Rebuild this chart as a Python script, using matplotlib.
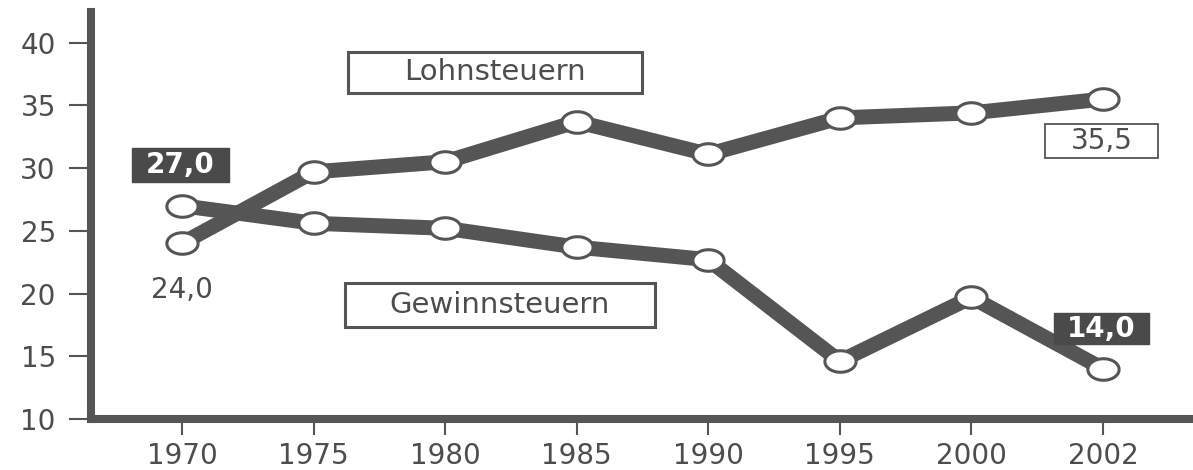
import matplotlib
matplotlib.use('Agg')
import matplotlib.pyplot as plt
import numpy as np
from matplotlib.path import Path

# Daten (Prozent am Steueraufkommen)
jahre = ['1970', '1975', '1980', '1985', '1990', '1995', '2000', '2002']
lohnsteuern = [24.0, 29.7, 30.5, 33.7, 31.1, 34.0, 34.4, 35.5]
gewinnsteuern = [27.0, 25.6, 25.2, 23.7, 22.7, 14.6, 19.7, 14.0]
y_ticks = [10, 15, 20, 25, 30, 35, 40]

grau = '#555555'
text_grau = '#4d4d4d'

plt.rcParams['font.family'] = ['DejaVu Sans']


# Kasten mit getrenntem Abstand links/rechts und oben/unten
def kasten(padx, pady):
    def style(x0, y0, width, height, mutation_size):
        px = padx * mutation_size
        py = pady * mutation_size
        x0 = x0 - px
        y0 = y0 - py
        x1 = x0 + width + 2 * px
        y1 = y0 + height + 2 * py
        return Path([(x0, y0), (x1, y0), (x1, y1), (x0, y1), (x0, y0)],
                    [Path.MOVETO, Path.LINETO, Path.LINETO, Path.LINETO, Path.CLOSEPOLY])
    return style


# Ellipse als Marker
t = np.linspace(0, 2 * np.pi, 60)
ellipse = list(zip(1.45 * np.cos(t), np.sin(t)))

fig = plt.figure(figsize=(11.93, 4.70), dpi=100)
ax = fig.add_axes([90.5 / 1193, 51 / 470, 1102.5 / 1193, 407 / 470])

x = np.arange(len(jahre))

for werte in [gewinnsteuern, lohnsteuern]:
    ax.plot(x, werte, color=grau, linewidth=10.8, solid_capstyle='butt',
            solid_joinstyle='round', zorder=2)
for werte in [gewinnsteuern, lohnsteuern]:
    ax.plot(x, werte, linestyle='none', marker=ellipse, markersize=22.5,
            markerfacecolor='white', markeredgecolor=grau, markeredgewidth=2.2, zorder=3)

ax.set_xlim(-0.695, 7.684)
ax.set_ylim(10, 42.44)
ax.set_xticks(x)
ax.set_xticklabels(jahre)
ax.set_yticks(y_ticks)

for s in ['top', 'right']:
    ax.spines[s].set_visible(False)
for s in ['left', 'bottom']:
    ax.spines[s].set_linewidth(5.8)
    ax.spines[s].set_color(grau)
    ax.spines[s].set_capstyle('projecting')

ax.tick_params(axis='y', length=16, width=1.5, color=grau, pad=9,
               labelsize=20, labelcolor=text_grau)
ax.tick_params(axis='x', length=11.5, width=1.5, color=grau, pad=5,
               labelsize=20, labelcolor=text_grau)

# Beschriftung der Reihen
ax.text(0.3669, 0.8514, 'Lohnsteuern', transform=ax.transAxes, ha='center', va='center',
        fontsize=21, color=text_grau,
        bbox=dict(boxstyle=kasten(1.92, 0.22), facecolor='white', edgecolor=grau, linewidth=2.2))
ax.text(0.3714, 0.2801, 'Gewinnsteuern', transform=ax.transAxes, ha='center', va='center',
        fontsize=21, color=text_grau,
        bbox=dict(boxstyle=kasten(1.53, 0.27), facecolor='white', edgecolor=grau, linewidth=2.2))

# Werte am Anfang und Ende
ax.annotate('27,0', (x[0], gewinnsteuern[0]), xytext=(-1, 29), textcoords='offset points',
            ha='center', va='center', fontsize=20, fontweight='bold', color='white',
            bbox=dict(boxstyle=kasten(0.51, 0.11), facecolor='#4a4a4a', edgecolor='#4a4a4a'))
ax.annotate('24,0', (x[0], lohnsteuern[0]), xytext=(0, -33.7), textcoords='offset points',
            ha='center', va='center', fontsize=20, color=text_grau)
ax.annotate('14,0', (x[-1], gewinnsteuern[-1]), xytext=(-1, 29), textcoords='offset points',
            ha='center', va='center', fontsize=20, fontweight='bold', color='white',
            bbox=dict(boxstyle=kasten(0.47, 0.06), facecolor='#4a4a4a', edgecolor='#4a4a4a'))
ax.annotate('35,5', (x[-1], lohnsteuern[-1]), xytext=(-1, -30), textcoords='offset points',
            ha='center', va='center', fontsize=20, color=text_grau,
            bbox=dict(boxstyle=kasten(0.92, 0.11), facecolor='white', edgecolor=grau, linewidth=1.3))

fig.savefig('out.png', dpi=100)
